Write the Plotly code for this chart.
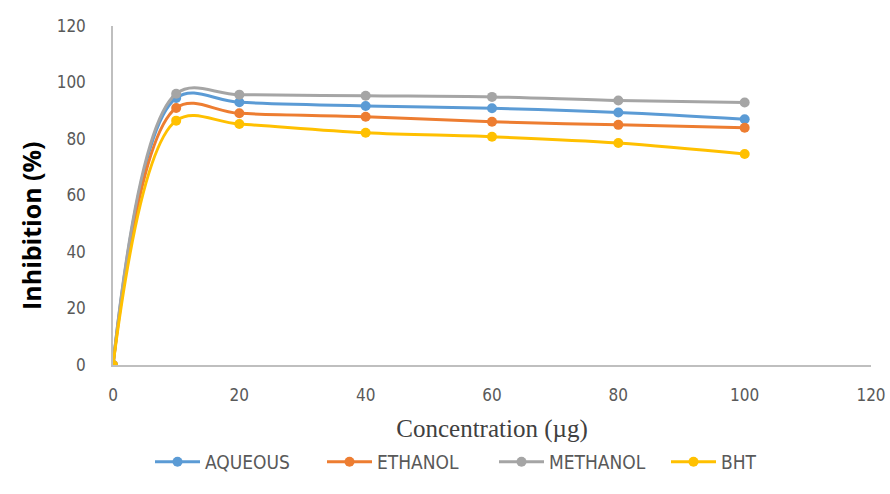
import plotly.graph_objects as go

concentration = [0, 10, 20, 40, 60, 80, 100]
aqueous = [0, 94.5, 93.0, 91.7, 90.9, 89.4, 87.0]
ethanol = [0, 91.0, 89.1, 87.9, 86.1, 85.0, 84.0]
methanol = [0, 96.0, 95.7, 95.3, 94.9, 93.6, 92.9]
bht = [0, 86.5, 85.3, 82.2, 80.8, 78.6, 74.7]

series = [
    ("AQUEOUS", aqueous, "#5B9BD5"),
    ("ETHANOL", ethanol, "#ED7D31"),
    ("METHANOL", methanol, "#A5A5A5"),
    ("BHT", bht, "#FFC000"),
]

fig = go.Figure()
for name, vals, col in series:
    fig.add_trace(go.Scatter(
        x=concentration, y=vals, name=name, mode="lines+markers",
        line=dict(color=col, width=3, shape="spline", smoothing=1.0),
        marker=dict(color=col, size=10),
    ))

cond = "DejaVu Sans Condensed, Liberation Sans Narrow, Arial Narrow, sans-serif"
tickfont = dict(family=cond, size=17, color="#595959")
legfont = dict(family=cond, size=19, color="#595959")

fig.update_layout(
    width=890, height=494,
    margin=dict(l=113, r=19, t=26, b=129, autoexpand=False),
    paper_bgcolor="white", plot_bgcolor="white",
    showlegend=True,
    legend=dict(orientation="h", x=150 / 890, xanchor="left", xref="container",
                y=0.065, yanchor="middle", yref="container",
                font=legfont, itemwidth=45, entrywidth=112, tracegroupgap=0),
    xaxis=dict(range=[0, 120], dtick=20, showgrid=False, zeroline=False,
               showline=True, linecolor="#BFBFBF", linewidth=1.5,
               ticks="", tickfont=tickfont, ticklabelstandoff=14,
               title=dict(text="Concentration (µg)",
                          font=dict(family="Liberation Serif, Times New Roman, serif", size=25, color="#404040"),
                          standoff=16)),
    yaxis=dict(range=[0, 120], dtick=20, showgrid=False, zeroline=False,
               showline=True, linecolor="#BFBFBF", linewidth=1.5,
               ticks="", tickfont=tickfont, ticklabelstandoff=22),
    annotations=[dict(text="<b>Inhibition (%)</b>", textangle=-90,
                      xref="paper", yref="paper", x=-82 / 758, y=(365 - 226) / 339,
                      xanchor="center", yanchor="middle", showarrow=False,
                      font=dict(family="Open Sans, Lato, sans-serif", size=25, color="black"))],
)

fig.write_html("out.html")
